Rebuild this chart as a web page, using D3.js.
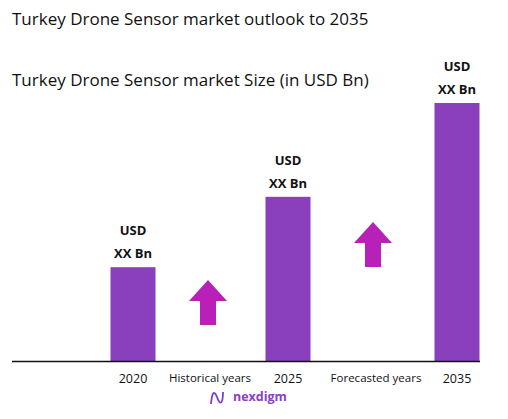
<!DOCTYPE html><html><head><script src="https://cdn.jsdelivr.net/npm/d3@7"></script>
<style>body{margin:0;background:#fff}text{font-family:"Open Sans",sans-serif}</style></head><body>
<svg id="c" width="508" height="419"></svg>
<script>
const categories=["2020","2025","2035"];
const values=[2.0,3.5,5.5];
const valueLabels=["USD","XX Bn"];
const midLabels=[{label:"Historical years",pos:210},{label:"Forecasted years",pos:376}];
const svg=d3.select("#c");
const x=d3.scaleOrdinal().domain(categories).range([133,288,457]);
const y=d3.scaleLinear().domain([0,5.5]).range([361,103]);
const bw=45;
svg.append("text").attr("x",12).attr("y",25).attr("font-size",17).attr("fill","#111").text("Turkey Drone Sensor market outlook to 2035");
svg.append("text").attr("x",12).attr("y",86).attr("font-size",17).attr("fill","#111").text("Turkey Drone Sensor market Size (in USD Bn)");
svg.selectAll("rect.b").data(values).join("rect").attr("x",(d,i)=>x(categories[i])-bw/2).attr("y",d=>y(d)).attr("width",bw).attr("height",d=>y(0)-y(d)).attr("fill","#8a40bd");
svg.append("line").attr("x1",12).attr("x2",480).attr("y1",361.5).attr("y2",361.5).attr("stroke","#111").attr("stroke-width",1.5);
values.forEach((d,i)=>{
  svg.append("text").attr("x",x(categories[i])).attr("y",y(d)-32).attr("text-anchor","middle").attr("font-weight","bold").attr("font-size",13).attr("fill","#111").text(valueLabels[0]);
  svg.append("text").attr("x",x(categories[i])).attr("y",y(d)-9).attr("text-anchor","middle").attr("font-weight","bold").attr("font-size",13).attr("fill","#111").text(valueLabels[1]);
  svg.append("text").attr("x",x(categories[i])).attr("y",383).attr("text-anchor","middle").attr("font-size",12.5).attr("fill","#111").text(categories[i]);
});
midLabels.forEach(m=>svg.append("text").attr("x",m.pos).attr("y",382).attr("text-anchor","middle").attr("font-size",11.5).attr("fill","#111").text(m.label));
function arrow(cx,top){
  const p=[[cx,top],[cx+19,top+21],[cx+8,top+21],[cx+8,top+45],[cx-8,top+45],[cx-8,top+21],[cx-19,top+21]];
  svg.append("polygon").attr("points",p.map(a=>a.join(",")).join(" ")).attr("fill","#b821b8");
}
arrow(208,280);arrow(373,222);
svg.append("path").attr("d","M211,404 C212,392 214,390 217,397 C220,406 223,404 223,392").attr("fill","none").attr("stroke","#7a3fd0").attr("stroke-width",1.8);
svg.append("text").attr("x",233).attr("y",401).attr("font-size",12.5).attr("font-weight","bold").attr("fill","#8a40c8").text("nexdigm");
</script></body></html>
